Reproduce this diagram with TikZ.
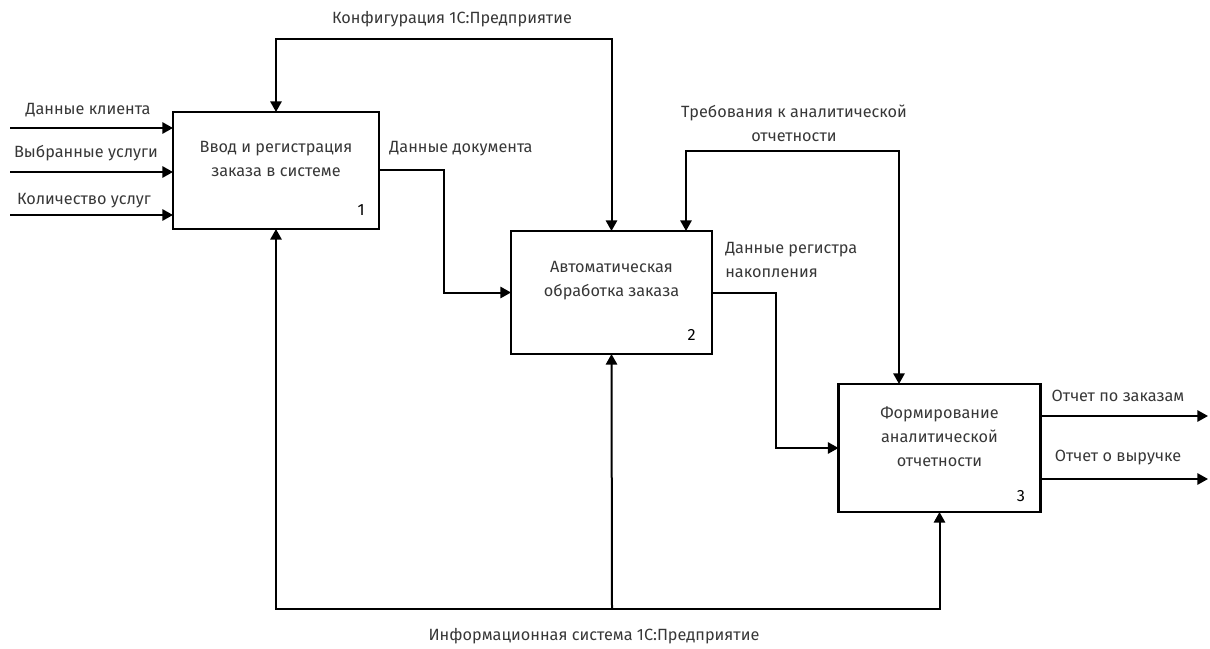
\documentclass[tikz,border=0pt]{standalone}
\usepackage{fontspec}
\setmainfont{Fira Sans}
\usetikzlibrary{arrows.meta}
\definecolor{labelgray}{RGB}{55,55,55}

\tikzset{
  funcbox/.style={draw, line width=2pt, inner sep=0pt, outer sep=0pt},
  flow/.style={line width=1.5pt, -{Triangle[length=8pt,width=8.5pt]}},
  twoway/.style={line width=1.5pt, {Triangle[length=8pt,width=8.5pt]}-{Triangle[length=8pt,width=8.5pt]}},
  lbl/.style={text=labelgray, font=\fontsize{12.2}{18}\selectfont, align=center, inner sep=0pt},
  num/.style={font=\fontsize{12.2}{14}\selectfont, inner sep=0pt, anchor=south east}
}

\begin{document}
\begin{tikzpicture}[x=0.75pt, y=-0.75pt]
  \useasboundingbox (0,0) rectangle (1210,649);

  % function boxes
  \node[funcbox, minimum width=154.5pt, minimum height=87.75pt] (b1) at (276,170.5) {};
  \node[funcbox, minimum width=150.75pt, minimum height=92.25pt] (b2) at (611.5,292.5) {};
  \node[funcbox, minimum width=151.5pt, minimum height=96pt] (b3) at (939.5,448) {};

  \node[lbl] (t1) at ([yshift=8.6pt]b1.center) {Ввод и регистрация\\заказа в системе};
  \node[lbl] (t2) at ([yshift=8.6pt]b2.center) {Автоматическая\\обработка заказа};
  \node[lbl] (t3) at ([yshift=8.3pt]b3.center) {Формирование\\аналитической\\отчетности};

  \node[num] (n1) at ([xshift=-10.5pt, yshift=10pt]b1.south east) {1};
  \node[num] (n2) at ([xshift=-12pt, yshift=10pt]b2.south east) {2};
  \node[num] (n3) at ([xshift=-11.5pt, yshift=7.5pt]b3.south east) {3};

  % inputs
  \coordinate (in1) at (10,128);
  \coordinate (in2) at (10,172);
  \coordinate (in3) at (10,215);
  \draw[flow] (in1) -- (in1 -| b1.west);
  \draw[flow] (in2) -- (in2 -| b1.west);
  \draw[flow] (in3) -- (in3 -| b1.west);
  \node[lbl] (l1) at (88,110) {Данные клиента};
  \node[lbl] (l2) at (86,153) {Выбранные услуги};
  \node[lbl] (l3) at (84,201) {Количество услуг};

  % controls
  \coordinate (ctl1) at (444,39);
  \draw[twoway] (b1.north) |- (ctl1) -| (b2.north);
  \node[lbl] (lc1) at (452,19) {Конфигурация 1С:Предприятие};

  \coordinate (ctl2) at (792,151);
  \draw[twoway] (b2.north -| 686,0) |- (ctl2) -| (b3.north -| 899,0);
  \node[lbl] (lc2) at (794,123.5) {Требования к аналитической\\отчетности};

  % flows between boxes
  \draw[flow] (b1.east) -- ++(65,0) |- (b2.west);
  \node[lbl] (ld1) at (461,149) {Данные документа};

  \draw[flow] (b2.east) -- ++(64,0) |- (b3.west);
  \node[lbl, align=left, anchor=west] (ld2) at (725,259.5) {Данные регистра\\накопления};

  % outputs
  \coordinate (out1) at (1208,416);
  \coordinate (out2) at (1208,479);
  \draw[flow] (out1 -| b3.east) -- (out1);
  \draw[flow] (out2 -| b3.east) -- (out2);
  \node[lbl] (lo1) at (1118,396) {Отчет по заказам};
  \node[lbl] (lo2) at (1118,458) {Отчет о выручке};

  % mechanism
  \coordinate (mech) at (612,609);
  \draw[twoway] (b1.south) |- (mech) -| (b3.south);
  \draw[flow] (mech) -- (b2.south);
  \node[lbl] (lm) at (594,636) {Информационная система 1С:Предприятие};
\end{tikzpicture}
\end{document}
